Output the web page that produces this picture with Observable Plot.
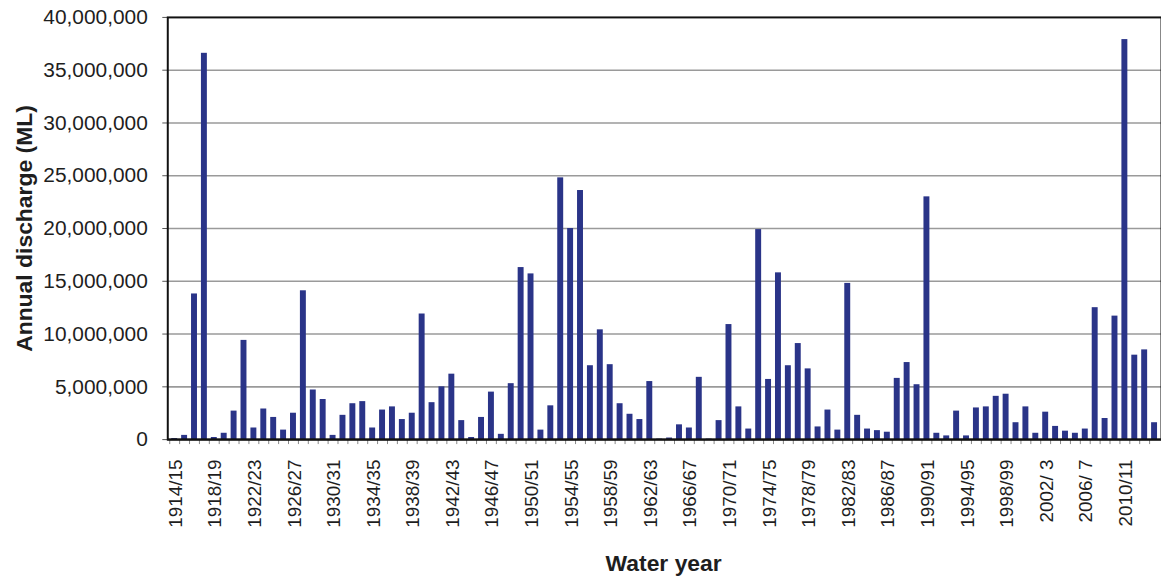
<!DOCTYPE html>
<html>
<head>
<meta charset="utf-8">
<script src="https://cdn.jsdelivr.net/npm/d3@7"></script>
<script src="https://cdn.jsdelivr.net/npm/@observablehq/plot@0.6"></script>
<style>
  html, body { margin: 0; padding: 0; background: #fff; overflow: hidden; }
  #chart { width: 1161px; height: 579px; overflow: hidden; }
</style>
</head>
<body>
<div id="chart"></div>
<script>
const waterYears = [
  "1914/15","1915/16","1916/17","1917/18","1918/19","1919/20","1920/21","1921/22","1922/23","1923/24",
  "1924/25","1925/26","1926/27","1927/28","1928/29","1929/30","1930/31","1931/32","1932/33","1933/34",
  "1934/35","1935/36","1936/37","1937/38","1938/39","1939/40","1940/41","1941/42","1942/43","1943/44",
  "1944/45","1945/46","1946/47","1947/48","1948/49","1949/50","1950/51","1951/52","1952/53","1953/54",
  "1954/55","1955/56","1956/57","1957/58","1958/59","1959/60","1960/61","1961/62","1962/63","1963/64",
  "1964/65","1965/66","1966/67","1967/68","1968/69","1969/70","1970/71","1971/72","1972/73","1973/74",
  "1974/75","1975/76","1976/77","1977/78","1978/79","1979/80","1980/81","1981/82","1982/83","1983/84",
  "1984/85","1985/86","1986/87","1987/88","1988/89","1989/90","1990/91","1991/92","1992/93","1993/94",
  "1994/95","1995/96","1996/97","1997/98","1998/99","1999/00","2000/ 1","2001/ 2","2002/ 3","2003/ 4",
  "2004/ 5","2005/ 6","2006/ 7","2007/ 8","2008/ 9","2009/10","2010/11","2011/12","2012/13","2013/14"
];

// Annual discharge, millions of ML
const dischargeMillions = [
  0.1, 0.4, 13.8, 36.6, 0.2, 0.6, 2.7, 9.4, 1.1, 2.9,
  2.1, 0.9, 2.5, 14.1, 4.7, 3.8, 0.4, 2.3, 3.4, 3.6,
  1.1, 2.8, 3.1, 1.9, 2.5, 11.9, 3.5, 5.0, 6.2, 1.8,
  0.2, 2.1, 4.5, 0.5, 5.3, 16.3, 15.7, 0.9, 3.2, 24.8,
  20.0, 23.6, 7.0, 10.4, 7.1, 3.4, 2.4, 1.9, 5.5, 0.05,
  0.15, 1.4, 1.1, 5.9, 0.05, 1.8, 10.9, 3.1, 1.0, 19.9,
  5.7, 15.8, 7.0, 9.1, 6.7, 1.2, 2.8, 0.9, 14.8, 2.3,
  1.0, 0.85, 0.7, 5.8, 7.3, 5.2, 23.0, 0.6, 0.35, 2.7,
  0.35, 3.0, 3.1, 4.1, 4.3, 1.6, 3.1, 0.6, 2.6, 1.25,
  0.8, 0.6, 1.0, 12.5, 2.0, 11.7, 37.9, 8.0, 8.5, 1.6
];

const labeledYears = [
  "1914/15","1918/19","1922/23","1926/27","1930/31","1934/35","1938/39","1942/43","1946/47",
  "1950/51","1954/55","1958/59","1962/63","1966/67","1970/71","1974/75","1978/79","1982/83",
  "1986/87","1990/91","1994/95","1998/99","2002/ 3","2006/ 7","2010/11"
];

const yTicks = [0, 5e6, 10e6, 15e6, 20e6, 25e6, 30e6, 35e6, 40e6];
const gridTicks = [5e6, 10e6, 15e6, 20e6, 25e6, 30e6, 35e6];

const data = waterYears.map((year, i) => ({year, value: dischargeMillions[i] * 1e6}));

const W = 1166, H = 579, ML = 168, MR = 0, MT = 17, MB = 138;
const step = (W - ML - MR) / waterYears.length;

const chart = Plot.plot({
  width: W,
  height: H,
  marginLeft: ML,
  marginRight: MR,
  marginTop: MT,
  marginBottom: MB,
  style: {fontFamily: "'Liberation Sans', Arial, sans-serif", color: "#1e1e1e", background: "#fff", overflow: "hidden"},
  x: {domain: waterYears, padding: 0.4, axis: null},
  y: {domain: [0, 40e6], axis: null},
  marks: [
    Plot.gridY(gridTicks, {stroke: "#9a9a9a", strokeOpacity: 1, strokeWidth: 1.6}),
    Plot.barY(data, {x: "year", y: "value", fill: "#2a3488"}),
    Plot.axisY({ticks: yTicks, tickFormat: d3.format(","), tickSize: 5, tickPadding: 15, fontSize: 21, label: null, stroke: "#555"}),
    Plot.axisX({ticks: waterYears, tickSize: 5, tickFormat: () => "", dx: -step / 2, label: null, stroke: "#888"}),
    Plot.axisX({ticks: labeledYears, tickSize: 0, tickRotate: -90, tickPadding: 20, fontSize: 19, dx: 1, label: null}),
    Plot.ruleY([0], {stroke: "#111", strokeWidth: 2}),
    Plot.frame({stroke: "#111", strokeWidth: 2}),
    Plot.text(["Annual discharge (ML)"], {frameAnchor: "left", textAnchor: "middle", dx: -144, rotate: -90, fontSize: 23, fontWeight: "bold", fill: "#1e1e1e"}),
    Plot.text(["Water year"], {frameAnchor: "bottom", dy: 132, dx: -1, fontSize: 23, fontWeight: "bold", fill: "#1e1e1e"})
  ]
});

document.getElementById("chart").appendChild(chart);
</script>
</body>
</html>
